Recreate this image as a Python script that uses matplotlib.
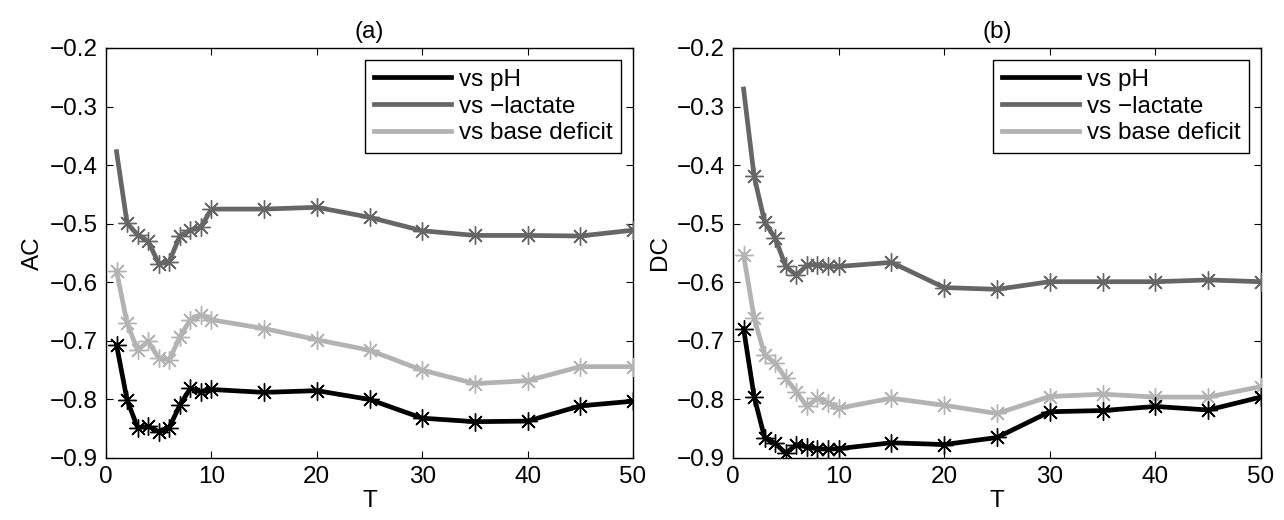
import matplotlib
matplotlib.use("Agg")
import matplotlib.pyplot as plt
from matplotlib.lines import Line2D

plt.rcParams['font.family'] = ['Liberation Sans', 'DejaVu Sans']
plt.rcParams['font.size'] = 17.5

T = [1, 2, 3, 4, 5, 6, 7, 8, 9, 10, 15, 20, 25, 30, 35, 40, 45, 50]

ac_ph = [-0.707, -0.801, -0.848, -0.846, -0.855, -0.848, -0.810, -0.781, -0.787, -0.783,
         -0.788, -0.785, -0.800, -0.832, -0.838, -0.837, -0.811, -0.803]
ac_lac = [-0.377, -0.499, -0.519, -0.530, -0.568, -0.565, -0.521, -0.511, -0.506, -0.475,
          -0.475, -0.472, -0.489, -0.512, -0.520, -0.520, -0.521, -0.511]
ac_bd = [-0.581, -0.670, -0.716, -0.701, -0.729, -0.733, -0.693, -0.664, -0.656, -0.664,
         -0.679, -0.698, -0.716, -0.750, -0.773, -0.768, -0.744, -0.744]

dc_ph = [-0.679, -0.795, -0.866, -0.875, -0.892, -0.877, -0.881, -0.884, -0.885, -0.884,
         -0.874, -0.877, -0.865, -0.821, -0.819, -0.812, -0.818, -0.796]
dc_lac = [-0.270, -0.419, -0.497, -0.525, -0.573, -0.588, -0.571, -0.570, -0.573, -0.573,
          -0.566, -0.609, -0.612, -0.599, -0.599, -0.599, -0.596, -0.599]
dc_bd = [-0.553, -0.661, -0.724, -0.738, -0.764, -0.787, -0.812, -0.798, -0.806, -0.815,
         -0.798, -0.810, -0.824, -0.795, -0.791, -0.796, -0.796, -0.778]

labels = ['vs pH', 'vs \u2212lactate', 'vs base deficit']
colors = ['#000000', '#666666', '#b3b3b3']
yticks = [-0.9, -0.8, -0.7, -0.6, -0.5, -0.4, -0.3, -0.2]
xticks = [0, 10, 20, 30, 40, 50]

fig = plt.figure(figsize=(12.84, 5.2), dpi=100)
ax1 = fig.add_axes([106/1284, 62/520, 527/1284, 410/520])
ax2 = fig.add_axes([733/1284, 62/520, 528/1284, 410/520])

star = (8, 2, 0)

def draw(ax, series, ylabel, title):
    order = [2, 1, 0]
    for i in order:
        y = series[i]
        me = list(range(1, len(T))) if i == 1 else None
        ax.plot(T, y, color=colors[i], lw=3.4, marker=star, ms=13,
                mec=colors[i], mew=1.0, markevery=me, zorder=3 - i + 2)
    ax.set_xlim(0, 50)
    ax.set_ylim(-0.9, -0.2)
    ax.set_xticks(xticks)
    ax.set_yticks(yticks)
    ax.set_yticklabels(['\u2212%.1f' % abs(v) for v in yticks])
    ax.tick_params(direction='in', top=True, right=True, length=5, width=0.8,
                   labelsize=17.5, pad=6)
    for s in ax.spines.values():
        s.set_linewidth(1.0)
    ax.set_xlabel('T', fontsize=17.5, labelpad=1)
    ax.set_ylabel(ylabel, fontsize=17.5, labelpad=4)
    ax.set_title(title, fontsize=17.5, pad=7)
    handles = [Line2D([0], [0], color=c, lw=3.4) for c in colors]
    leg = ax.legend(handles, labels, loc='upper right', fontsize=17.5,
                    handlelength=3.2, handletextpad=0.3, labelspacing=0.2,
                    borderpad=0.35, borderaxespad=0.5, fancybox=False,
                    framealpha=1, edgecolor='black')
    leg.get_frame().set_linewidth(1.0)

draw(ax1, [ac_ph, ac_lac, ac_bd], 'AC', '(a)')
draw(ax2, [dc_ph, dc_lac, dc_bd], 'DC', '(b)')

fig.savefig('out.png', dpi=100)
